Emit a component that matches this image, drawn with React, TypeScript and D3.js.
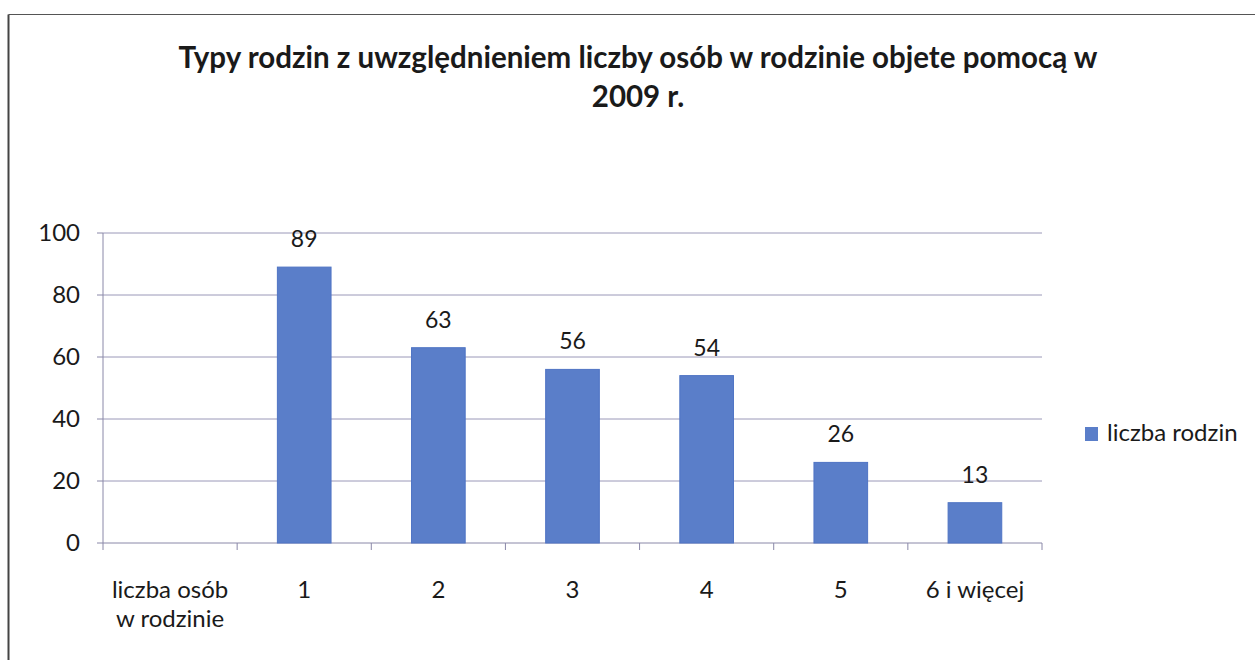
import React from "react";
import * as d3 from "d3";

const categories = ["liczba osób\nw rodzinie", "1", "2", "3", "4", "5", "6 i więcej"];
const values: (number | null)[] = [null, 89, 63, 56, 54, 26, 13];
const yTicks = [0, 20, 40, 60, 80, 100];
const titleLines = ["Typy rodzin z uwzględnieniem liczby osób w rodzinie objete pomocą w", "2009 r."];
const seriesName = "liczba rodzin";

const W = 1255, H = 660;
const left = 103, right = 1042, top = 233, bottom = 543;
const FONT = "Lato, 'Open Sans', sans-serif";

export default function App() {
  const x = d3.scaleBand<string>().domain(categories).range([left, right]).paddingInner(0.6).paddingOuter(0.3);
  const step = (right - left) / categories.length;
  const y = d3.scaleLinear().domain([0, 100]).range([bottom, top]);
  const barColor = "#5a7ec9";
  return (
    <svg width={W} height={H} style={{ position: "absolute", left: 0, top: 0, background: "#fff" }}>
      <line x1={8.5} y1={14.5} x2={W} y2={14.5} stroke="#555" strokeWidth={1.2} />
      <line x1={8.5} y1={14.5} x2={8.5} y2={H} stroke="#444" strokeWidth={2} />
      {titleLines.map((t, i) => (
        <text key={i} x={638} y={68 + i * 39} textAnchor="middle" fontFamily={FONT} fontWeight="bold" fontSize={29.5} fill="#1a1a1a">{t}</text>
      ))}
      {yTicks.map((t) => (
        <g key={t}>
          {t > 0 && <line x1={left} x2={right} y1={y(t)} y2={y(t)} stroke="#9a98b8" strokeWidth={1} />}
          <line x1={left - 6} x2={left} y1={y(t)} y2={y(t)} stroke="#8a88a8" strokeWidth={1} />
          <text x={80} y={y(t)} dy="0.35em" textAnchor="end" fontFamily={FONT} fontSize={24} fill="#1a1a1a">{t}</text>
        </g>
      ))}
      <line x1={left} x2={left} y1={top} y2={bottom} stroke="#8a88a8" strokeWidth={1} />
      <line x1={left} x2={right} y1={bottom} y2={bottom} stroke="#8a88a8" strokeWidth={1} />
      {d3.range(categories.length + 1).map((i) => (
        <line key={i} x1={left + i * step} x2={left + i * step} y1={bottom} y2={bottom + 7} stroke="#8a88a8" strokeWidth={1} />
      ))}
      {categories.map((c, i) => {
        const v = values[i];
        const cx = (x(c) as number) + x.bandwidth() / 2;
        return (
          <g key={c}>
            {v != null && (
              <>
                <rect x={x(c)} y={y(v)} width={x.bandwidth()} height={bottom - y(v)} fill={barColor} stroke="#4f74c4" strokeWidth={1} />
                <text x={cx} y={y(v) - 20} textAnchor="middle" fontFamily={FONT} fontSize={23} fill="#1a1a1a">{v}</text>
              </>
            )}
            {c.split("\n").map((line, j) => (
              <text key={j} x={cx} y={598 + j * 29} textAnchor="middle" fontFamily={FONT} fontSize={24} fill="#1a1a1a">{line}</text>
            ))}
          </g>
        );
      })}
      <rect x={1085} y={427} width={13} height={14} fill={barColor} />
      <text x={1107} y={441} fontFamily={FONT} fontSize={24} fill="#1a1a1a">{seriesName}</text>
    </svg>
  );
}
